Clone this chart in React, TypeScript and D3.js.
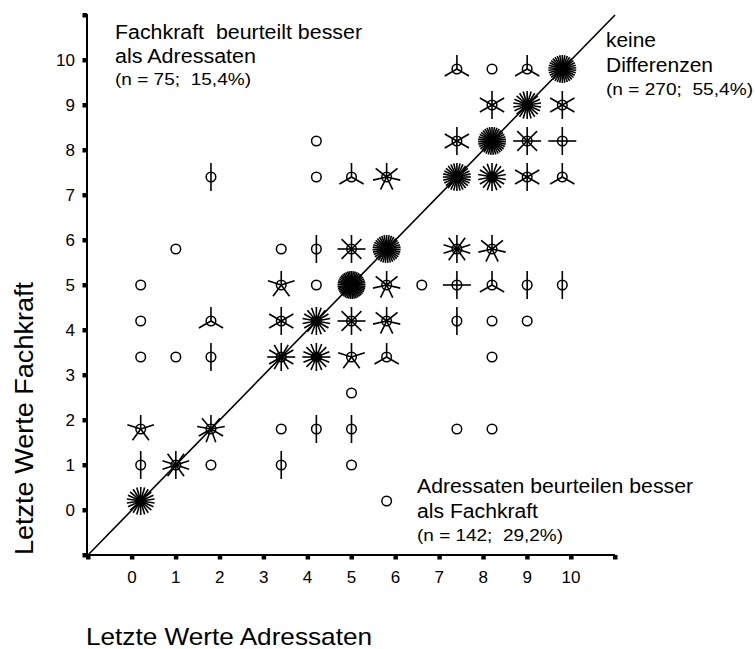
import React from 'react';
import * as d3 from 'd3';

// Sunflower plot data: x = Letzte Werte Adressaten, y = Letzte Werte Fachkraft, n = count (petals)
const xValues = [
  7.4, 8.2, 9.0, 9.8,
  8.2, 9.0, 9.8,
  4.2, 7.4, 8.2, 9.0, 9.8,
  1.8, 4.2, 5.0, 5.8, 7.4, 8.2, 9.0, 9.8,
  1.0, 3.4, 4.2, 5.0, 5.8, 7.4, 8.2,
  0.2, 3.4, 4.2, 5.0, 5.8, 6.6, 7.4, 8.2, 9.0, 9.8,
  0.2, 1.8, 3.4, 4.2, 5.0, 5.8, 7.4, 8.2, 9.0,
  0.2, 1.0, 1.8, 3.4, 4.2, 5.0, 5.8, 8.2,
  5.0,
  0.2, 1.8, 3.4, 4.2, 5.0, 7.4, 8.2,
  0.2, 1.0, 1.8, 3.4, 5.0,
  0.2, 5.8,
];
const yValues = [
  9.8, 9.8, 9.8, 9.8,
  9.0, 9.0, 9.0,
  8.2, 8.2, 8.2, 8.2, 8.2,
  7.4, 7.4, 7.4, 7.4, 7.4, 7.4, 7.4, 7.4,
  5.8, 5.8, 5.8, 5.8, 5.8, 5.8, 5.8,
  5.0, 5.0, 5.0, 5.0, 5.0, 5.0, 5.0, 5.0, 5.0, 5.0,
  4.2, 4.2, 4.2, 4.2, 4.2, 4.2, 4.2, 4.2, 4.2,
  3.4, 3.4, 3.4, 3.4, 3.4, 3.4, 3.4, 3.4,
  2.6,
  1.8, 1.8, 1.8, 1.8, 1.8, 1.8, 1.8,
  1.0, 1.0, 1.0, 1.0, 1.0,
  0.2, 0.2,
];
const counts = [
  3, 1, 3, 34,
  6, 22, 6,
  1, 6, 35, 8, 4,
  2, 1, 3, 7, 28, 18, 6, 3,
  1, 1, 2, 8, 35, 10, 7,
  1, 5, 1, 45, 7, 1, 4, 3, 2, 2,
  1, 3, 6, 18, 8, 7, 2, 1, 1,
  1, 1, 2, 12, 16, 5, 3, 1,
  1,
  5, 9, 1, 2, 2, 1, 1,
  2, 10, 1, 2, 1,
  22, 1,
];

const tickValues = [0, 1, 2, 3, 4, 5, 6, 7, 8, 9, 10];
const axisEnds = [-1, 11];

const xTitle = 'Letzte Werte Adressaten';
const yTitle = 'Letzte Werte Fachkraft';

const annotations = [
  { lines: ['Fachkraft  beurteilt besser', 'als Adressaten'], note: '(n = 75;  15,4%)' },
  { lines: ['keine', 'Differenzen'], note: '(n = 270;  55,4%)' },
  { lines: ['Adressaten beurteilen besser', 'als Fachkraft'], note: '(n = 142;  29,2%)' },
];

const FONT = "Arial, 'Liberation Sans', Helvetica, sans-serif";

export default function App() {
  const width = 755;
  const height = 649;
  const x = d3.scaleLinear().domain([-1, 11]).range([88, 615]);
  const y = d3.scaleLinear().domain([-1, 11]).range([555, 15]);

  const petalLen = 14;
  const circleR = 4.8;

  const flowers = xValues.map((xv, i) => ({ xv, yv: yValues[i], n: counts[i] }));

  // annotation layout (positions / lengths)
  const annLayout = [
    { x: 115, ys: [39, 63], note: 85, lens: [247, 141], noteLen: 136 },
    { x: 606, ys: [47, 72], note: 95, lens: [50, 107], noteLen: 147 },
    { x: 417, ys: [493, 518], note: 541, lens: [276, 121], noteLen: 146 },
  ];

  return (
    <svg
      width={width}
      height={height}
      style={{ position: 'absolute', left: 0, top: 0, background: '#fff', display: 'block' }}
      fontFamily={FONT}
    >
      <rect x={0} y={0} width={width} height={height} fill="#fff" />

      {/* diagonal */}
      <line x1={x(-1)} y1={y(-1)} x2={x(11)} y2={y(11)} stroke="#000" strokeWidth={1.6} />

      {/* axes */}
      <line x1={87} y1={y(11) - 1} x2={87} y2={y(-1) + 1} stroke="#000" strokeWidth={2} />
      <line x1={86} y1={y(-1)} x2={x(11)} y2={y(-1)} stroke="#000" strokeWidth={2} />

      {/* y ticks */}
      {[...tickValues, ...axisEnds].map((t) => (
        <rect key={'yt' + t} x={82.5} y={y(t) - 2} width={4.5} height={4.5} fill="#000" />
      ))}
      {tickValues.map((t) => (
        <text key={'yl' + t} x={75} y={y(t) + 6} textAnchor="end" fontSize={17} fill="#000">
          {t}
        </text>
      ))}

      {/* x ticks */}
      {[...tickValues, ...axisEnds].map((t) => (
        <rect key={'xt' + t} x={x(t) - 2} y={555} width={4.5} height={4.5} fill="#000" />
      ))}
      {tickValues.map((t) => (
        <text key={'xl' + t} x={x(t)} y={583} textAnchor="middle" fontSize={17} fill="#000">
          {t}
        </text>
      ))}

      {/* sunflowers */}
      {flowers.map((f, i) => {
        const cx = x(f.xv);
        const cy = y(f.yv);
        const petals = f.n > 1 ? d3.range(f.n) : [];
        return (
          <g key={'f' + i} transform={`translate(${cx},${cy})`}>
            <circle r={circleR} fill={f.n > 12 ? '#000' : 'none'} stroke="#000" strokeWidth={1.5} />
            {petals.map((k) => {
              const a = -Math.PI / 2 + (k * 2 * Math.PI) / f.n;
              return (
                <line
                  key={k}
                  x1={0}
                  y1={0}
                  x2={petalLen * Math.cos(a)}
                  y2={petalLen * Math.sin(a)}
                  stroke="#000"
                  strokeWidth={1.6}
                />
              );
            })}
          </g>
        );
      })}

      {/* annotations */}
      {annotations.map((a, i) => {
        const L = annLayout[i];
        return (
          <g key={'a' + i} fill="#000">
            {a.lines.map((ln, j) => (
              <text
                key={j}
                x={L.x}
                y={L.ys[j]}
                fontSize={19.5}
                textLength={L.lens[j]}
                lengthAdjust="spacingAndGlyphs"
                style={{ whiteSpace: 'pre' }}
              >
                {ln}
              </text>
            ))}
            <text
              x={L.x}
              y={L.note}
              fontSize={16}
              textLength={L.noteLen}
              lengthAdjust="spacingAndGlyphs"
              style={{ whiteSpace: 'pre' }}
            >
              {a.note}
            </text>
          </g>
        );
      })}

      {/* axis titles */}
      <text x={86} y={645} fontSize={24} textLength={286} lengthAdjust="spacingAndGlyphs" fill="#000">
        {xTitle}
      </text>
      <text
        transform="translate(33,555) rotate(-90)"
        fontSize={26}
        textLength={273}
        lengthAdjust="spacingAndGlyphs"
        fill="#000"
      >
        {yTitle}
      </text>
    </svg>
  );
}
